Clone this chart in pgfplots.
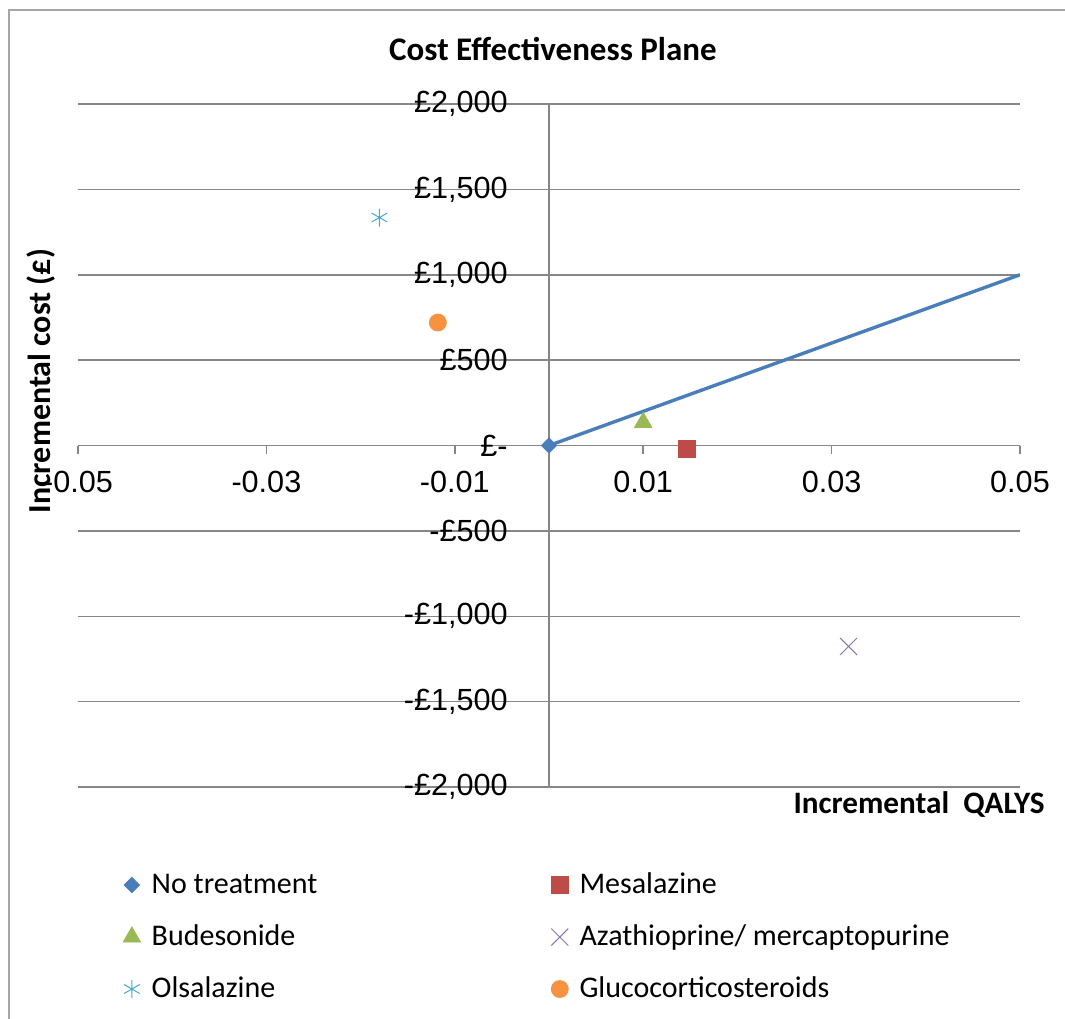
\documentclass[border=0pt]{standalone}
\usepackage{pgfplots}
\pgfplotsset{compat=1.18}
\usepackage{fontspec}
\setmainfont{Liberation Sans}
\newfontfamily\calibri{Carlito}

\definecolor{axgray}{HTML}{868686}
\definecolor{framegray}{HTML}{A6A6A6}
\definecolor{cblue}{HTML}{4A7EBB}
\definecolor{cred}{HTML}{BE4B48}
\definecolor{cgreen}{HTML}{98B954}
\definecolor{cpurple}{HTML}{8A74AE}
\definecolor{ccyan}{HTML}{46AAC5}
\definecolor{corange}{HTML}{F69240}

\begin{document}
\begin{tikzpicture}[x=0.5pt,y=0.5pt]
\useasboundingbox (0,0) rectangle (1065,1018);
\fill[white] (-10,-10) rectangle (1080,1030);
% chart area frame (left and top edges fall inside the page)
\draw[framegray, line width=1pt] (9,-20) -- (9,1008) -- (1090,1008);
\begin{axis}[
  at={(39pt,115.5pt)}, anchor=south west,
  scale only axis, width=471pt, height=341.5pt,
  xmin=-0.05, xmax=0.05, ymin=-2000, ymax=2000,
  axis lines=middle,
  axis line style={-, draw=axgray, line width=0.75pt},
  scaled x ticks=false, scaled y ticks=false,
  xtick={-0.05,-0.03,-0.01,0.01,0.03,0.05},
  xticklabels={-0.05,-0.03,-0.01,0.01,0.03,0.05},
  ytick={-2000,-1500,-1000,-500,0,500,1000,1500,2000},
  yticklabels={{-£2,000},{-£1,500},{-£1,000},{-£500},{£-},{£500},{£1,000},{£1,500},{£2,000}},
  hide obscured x ticks=false, hide obscured y ticks=false,
  ymajorgrids, grid style={draw=axgray, line width=0.75pt},
  xtick align=outside,
  major tick length=4pt,
  xtick style={draw=axgray, line width=0.75pt},
  ytick style={draw=none},
  tick label style={font=\fontsize{15.3}{18}\selectfont},
  xticklabel style={anchor=north, inner sep=0pt, yshift=-8.5pt},
  yticklabel style={anchor=east, inner sep=0pt, xshift=-18.5pt},
  title={Cost Effectiveness Plane},
  every axis title shift=0pt,
  title style={font=\calibri\bfseries\fontsize{16.5}{20}\selectfont, inner sep=0pt,
    at={(axis description cs:0.5042,1.0644)}, anchor=base},
  xlabel={Incremental\ \ QALYS},
  every axis x label/.style={font=\calibri\bfseries\fontsize{15.6}{18}\selectfont, inner sep=0pt,
    at={(axis description cs:1.0265,-0.0381)}, anchor=base east},
  ylabel={Incremental cost (£)},
  every axis y label/.style={font=\calibri\bfseries\fontsize{16}{18}\selectfont, inner sep=0pt,
    at={(axis description cs:-0.0393,0.5944)}, anchor=center, rotate=90},
  legend columns=2,
  legend cell align=left,
  legend style={draw=none, fill=none, inner sep=0pt, outer sep=0pt,
    at={(axis description cs:0.048,-0.1245)}, anchor=north west,
    font=\calibri\fontsize{15}{18}\selectfont,
    nodes={inner sep=0pt, text height=10.5pt, text depth=2.5pt},
    row sep=13pt, column sep=0pt,
    /tikz/every odd column/.append style={column sep=5.6pt},
    /tikz/every even column/.append style={column sep=117pt}},
  legend image code/.code={\draw[mark repeat=2, mark phase=2, #1] plot coordinates {(0pt,0pt) (5pt,0pt) (10pt,0pt)};},
]
% willingness-to-pay threshold line (£20,000 per QALY)
\addplot[cblue, line width=1.7pt, forget plot] coordinates {(0,0) (0.05,1000)};

\addplot[only marks, mark=square*, mark size=2.7pt, mark options={rotate=45, draw=cblue, fill=cblue}]
  coordinates {(0,0)};
\addlegendentry{No treatment}

\addplot[only marks, mark=square*, mark size=4.25pt, mark options={draw=cred, fill=cred}]
  coordinates {(0.0146,-20)};
\addlegendentry{Mesalazine}

\addplot[only marks, mark=triangle*, mark size=5pt, mark options={draw=cgreen, fill=cgreen}]
  coordinates {(0.0100,135)};
\addlegendentry{Budesonide}

\addplot[only marks, mark=x, mark size=6pt, mark options={draw=cpurple, line width=0.5pt}]
  coordinates {(0.0318,-1177)};
\addlegendentry{Azathioprine/ mercaptopurine}

\addplot[only marks, mark=asterisk, mark size=4.5pt, mark options={draw=ccyan, line width=0.5pt}]
  coordinates {(-0.0180,1335)};
\addlegendentry{Olsalazine}

\addplot[only marks, mark=*, mark size=4.25pt, mark options={draw=corange, fill=corange}]
  coordinates {(-0.0118,720)};
\addlegendentry{Glucocorticosteroids}
\end{axis}
\end{tikzpicture}
\end{document}
